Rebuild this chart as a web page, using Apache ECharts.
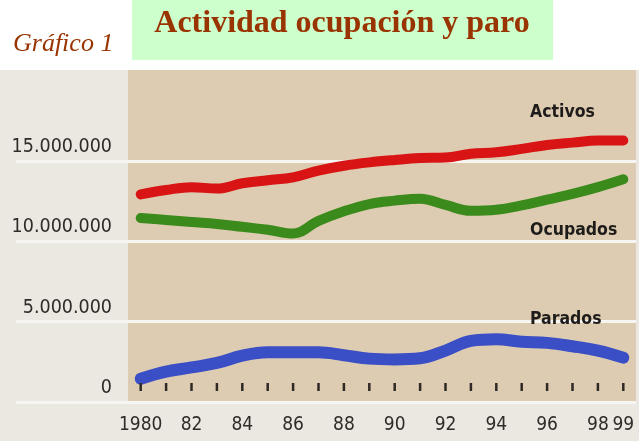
<!DOCTYPE html>
<html>
<head>
<meta charset="utf-8">
<title>Actividad ocupación y paro</title>
<script src="https://cdn.jsdelivr.net/npm/echarts@6.0.0/dist/echarts.min.js"></script>
<style>
  html, body { margin: 0; padding: 0; background: #ffffff; }
  #chart {
    width: 639px;
    height: 441px;
    background: linear-gradient(to bottom, #ffffff 0, #ffffff 70px, #ebe8e1 70px, #ebe8e1 100%);
  }
</style>
</head>
<body>
<div id="chart"></div>
<script>
// años del eje X
const years = ['1980', '1981', '1982', '1983', '1984', '1985', '1986', '1987', '1988', '1989',
  '1990', '1991', '1992', '1993', '1994', '1995', '1996', '1997', '1998', '1999'];
const yearLabels = ['1980', '', '82', '', '84', '', '86', '', '88', '',
  '90', '', '92', '', '94', '', '96', '', '98', '99'];

// valores (personas)
const activos = [12920000, 13190000, 13370000, 13280000, 13610000, 13800000, 13980000, 14400000, 14700000, 14910000,
  15060000, 15180000, 15210000, 15450000, 15540000, 15750000, 15990000, 16140000, 16270000, 16270000];
const ocupados = [11450000, 11330000, 11200000, 11080000, 10900000, 10720000, 10480000, 11270000, 11870000, 12320000,
  12530000, 12650000, 12260000, 11900000, 11960000, 12230000, 12590000, 12950000, 13370000, 13860000];
const parados = [1450000, 1890000, 2150000, 2430000, 2880000, 3090000, 3090000, 3090000, 2910000, 2700000,
  2650000, 2720000, 3200000, 3800000, 3900000, 3750000, 3680000, 3470000, 3200000, 2760000];

const yTicks = [0, 5000000, 10000000, 15000000];

const sansNarrow = "'DejaVu Sans Condensed', 'Liberation Sans', sans-serif";
const serif = "'Liberation Serif', 'Times New Roman', serif";
const gridWhite = '#f7f5f1';
const tickColor = '#2e2a26';

const chart = echarts.init(document.getElementById('chart'));

const fmt = v => String(v).replace(/\B(?=(\d{3})+(?!\d))/g, '.');

const splitColors = [gridWhite, gridWhite, gridWhite, gridWhite, 'rgba(0,0,0,0)', 'rgba(0,0,0,0)', 'rgba(0,0,0,0)'];

function line(name, data, color, width) {
  return {
    name: name,
    type: 'line',
    xAxisIndex: 1,
    yAxisIndex: 1,
    data: data,
    smooth: 0.4,
    symbol: 'none',
    silent: true,
    lineStyle: { color: color, width: width, cap: 'round', join: 'round' },
    z: 5
  };
}

const option = {
  animation: false,
  backgroundColor: 'transparent',
  grid: [
    { left: 16, top: 70, width: 112, bottom: 39, show: false },
    { left: 128, top: 70, right: 3, bottom: 39, show: true, backgroundColor: '#ddccb1', borderWidth: 0 }
  ],
  xAxis: [
    { gridIndex: 0, type: 'value', min: 0, max: 1, show: false },
    {
      gridIndex: 1,
      type: 'category',
      data: years,
      boundaryGap: true,
      axisLine: { show: false },
      axisTick: { show: false },
      axisLabel: {
        interval: 0,
        margin: 14,
        hideOverlap: false,
        color: '#2e2b28',
        fontFamily: sansNarrow,
        fontSize: 19,
        formatter: (v, i) => yearLabels[i]
      },
      splitLine: { show: false }
    }
  ],
  yAxis: [
    {
      gridIndex: 0,
      type: 'value',
      min: 0,
      max: 20660000,
      interval: 5000000,
      axisLine: { show: false },
      axisTick: { show: false },
      axisLabel: { show: false },
      splitLine: { show: true, lineStyle: { color: splitColors, width: 3 } }
    },
    {
      gridIndex: 1,
      type: 'value',
      min: 0,
      max: 20660000,
      interval: 5000000,
      axisLine: { show: false },
      axisTick: { show: false },
      axisLabel: {
        margin: 16,
        verticalAlign: 'bottom',
        padding: [0, 0, 4, 0],
        color: '#2e2b28',
        fontFamily: sansNarrow,
        fontSize: 19.5,
        formatter: v => (yTicks.indexOf(v) >= 0 ? fmt(v) : '')
      },
      splitLine: { show: true, lineStyle: { color: splitColors, width: 3 } }
    }
  ],
  series: [
    line('Activos', activos, '#d81414', 10),
    line('Ocupados', ocupados, '#3b8a1c', 10),
    line('Parados', parados, '#3a4ec6', 12)
  ],
  graphic: [
    { type: 'rect', shape: { x: 132, y: 0, width: 421, height: 60 }, style: { fill: '#ccffcc' }, silent: true },
    {
      type: 'text', x: 342, y: 24,
      style: {
        text: 'Actividad ocupación y paro',
        fill: '#993300',
        font: 'bold 32px ' + serif,
        textAlign: 'center',
        textVerticalAlign: 'middle'
      }
    },
    {
      type: 'text', x: 13, y: 44,
      style: {
        text: 'Gráfico 1',
        fill: '#993300',
        font: 'italic 26px ' + serif,
        textAlign: 'left',
        textVerticalAlign: 'middle'
      }
    },
    {
      type: 'text', x: 530, y: 112, z: 10,
      style: { text: 'Activos', fill: '#1e1c1a', font: 'bold 17.5px ' + sansNarrow, textVerticalAlign: 'middle' }
    },
    {
      type: 'text', x: 530, y: 230, z: 10,
      style: { text: 'Ocupados', fill: '#1e1c1a', font: 'bold 17.5px ' + sansNarrow, textVerticalAlign: 'middle' }
    },
    {
      type: 'text', x: 530, y: 319, z: 10,
      style: { text: 'Parados', fill: '#1e1c1a', font: 'bold 17.5px ' + sansNarrow, textVerticalAlign: 'middle' }
    }
  ]
};

chart.setOption(option);

// marcas de año: x desde la escala del propio gráfico, justo encima de la línea de 0
const tickMarks = years.map((y, i) => {
  const p = chart.convertToPixel({ xAxisIndex: 1, yAxisIndex: 1 }, [i, 0]);
  return {
    type: 'line',
    silent: true,
    z: 100,
    shape: { x1: p[0], y1: p[1] - 19, x2: p[0], y2: p[1] - 11 },
    style: { stroke: tickColor, lineWidth: 2.5 }
  };
});
chart.setOption({ graphic: option.graphic.concat(tickMarks) });
</script>
</body>
</html>
